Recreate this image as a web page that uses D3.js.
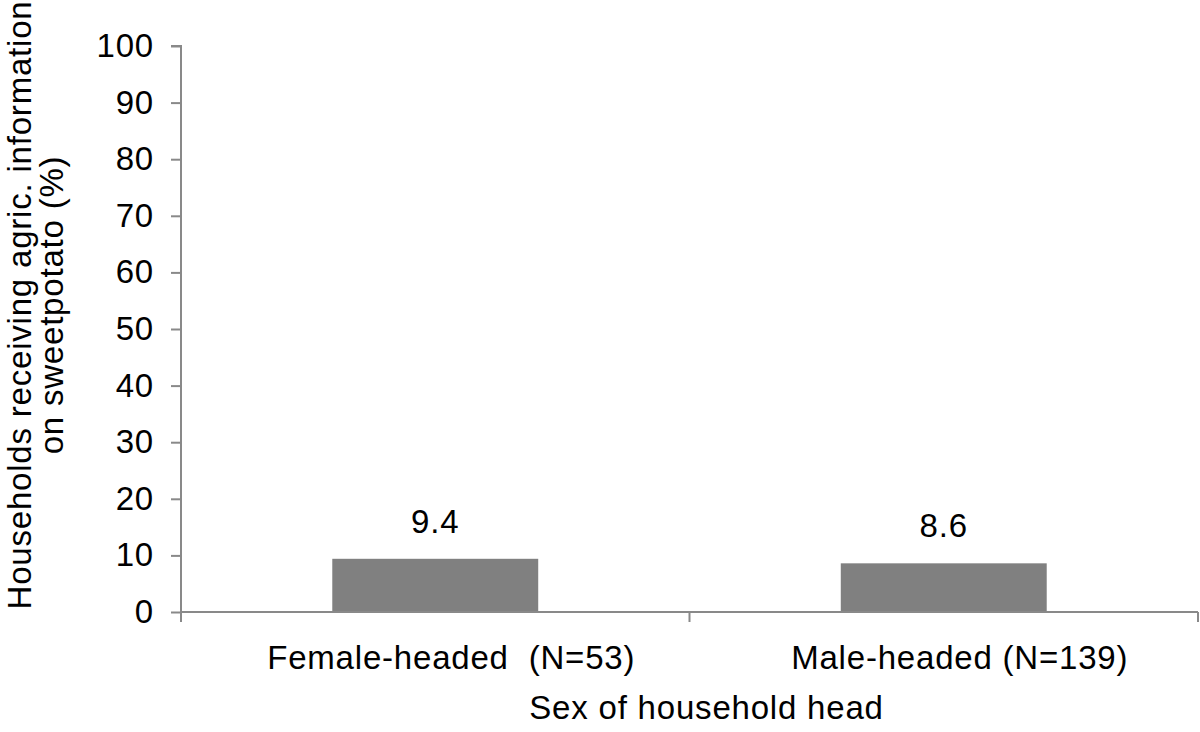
<!DOCTYPE html>
<html><head><meta charset="utf-8">
<script src="https://cdn.jsdelivr.net/npm/d3@7"></script>
<style>body{margin:0;background:#fff}text{font-family:"Liberation Sans",Arial,Helvetica,sans-serif;fill:#000;letter-spacing:0.8px}</style>
</head><body>
<svg id="chart" width="1200" height="732"></svg>
<script>
const categories = ["Female-headed  (N=53)", "Male-headed (N=139)"];
const values = [9.4, 8.6];
const valueLabels = ["9.4", "8.6"];
const yTicks = [0,10,20,30,40,50,60,70,80,90,100];
const yTitle = ["Households receiving agric. information", "on sweetpotato (%)"];
const xTitle = "Sex of household head";

(function(){
const svg = d3.select("#chart");
const FS = 33;
const mLeft = 181, mRight = 1198, mTop = 46, mBottom = 612;
const x = d3.scaleBand().domain(categories).range([mLeft, mRight]).paddingInner(0).paddingOuter(0);
const y = d3.scaleLinear().domain([0,100]).range([mBottom, mTop]);
const axisColor = "#898989";
const barW = x.bandwidth() * 0.405;

svg.selectAll("rect.bar").data(values).enter().append("rect")
  .attr("x", (d,i) => x(categories[i]) + x.bandwidth()/2 - barW/2)
  .attr("y", d => y(d)).attr("width", barW).attr("height", d => y(0) - y(d))
  .attr("fill", "#808080");

svg.selectAll("text.vl").data(values).enter().append("text")
  .attr("x", (d,i) => x(categories[i]) + x.bandwidth()/2)
  .attr("y", d => y(d) - 26).attr("text-anchor", "middle")
  .attr("font-size", FS).text((d,i) => valueLabels[i]);

// y axis
const yAxis = svg.append("g").attr("transform", `translate(${mLeft},0)`)
  .call(d3.axisLeft(y).tickValues(yTicks).tickSize(10).tickPadding(17).tickFormat(d3.format("d")));
yAxis.select(".domain").attr("stroke", axisColor).attr("stroke-width", 2).attr("d", `M-10,${mTop}H0V${mBottom}`);
yAxis.selectAll(".tick line").attr("stroke", axisColor).attr("stroke-width", 2);
yAxis.selectAll(".tick text").attr("font-size", FS).style("font-family", '"Liberation Sans",Arial,sans-serif').attr("fill", "#000");

// x axis
const xAxis = svg.append("g").attr("transform", `translate(0,${mBottom})`);
xAxis.append("line").attr("x1", mLeft).attr("x2", mRight).attr("y1", 0).attr("y2", 0).attr("stroke", axisColor).attr("stroke-width", 2);
const xTickPos = categories.map(c => x(c)).concat([mRight]);
xAxis.selectAll("line.t").data(xTickPos).enter().append("line")
  .attr("x1", d => d).attr("x2", d => d).attr("y1", 0).attr("y2", 10)
  .attr("stroke", axisColor).attr("stroke-width", 2);
xAxis.selectAll("text.c").data(categories).enter().append("text")
  .attr("x", d => x(d) + x.bandwidth()/2 + 16).attr("y", 57).attr("text-anchor", "middle")
  .attr("font-size", FS).style("white-space", "pre").text(d => d);

svg.append("text").attr("x", (mLeft + mRight)/2 + 17).attr("y", 719).attr("text-anchor", "middle")
  .attr("font-size", FS).text(xTitle);

const yt = svg.append("text").attr("transform", "translate(0,305) rotate(-90)").attr("text-anchor", "middle").attr("font-size", FS);
yt.append("tspan").attr("x", 0).attr("y", 31).text(yTitle[0]);
yt.append("tspan").attr("x", 0).attr("y", 63).text(yTitle[1]);
})();
</script>
</body></html>
